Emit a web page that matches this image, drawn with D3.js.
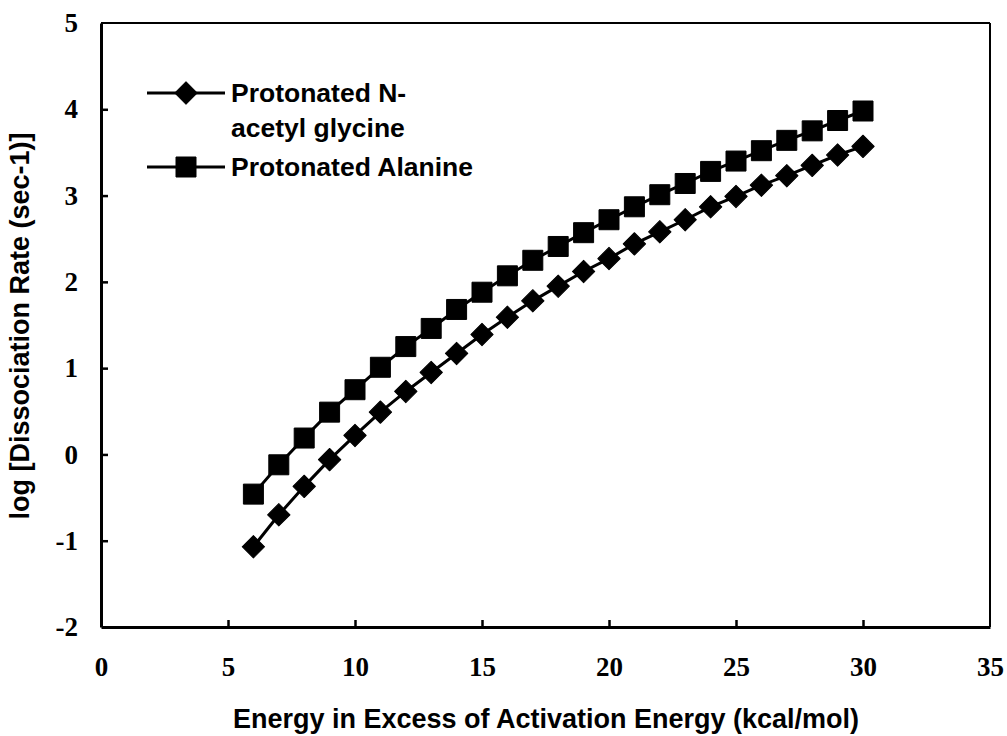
<!DOCTYPE html>
<html>
<head>
<meta charset="utf-8">
<script src="https://cdn.jsdelivr.net/npm/d3@7"></script>
<style>
  body { margin: 0; background: #fff; }
  .tick-label { font-family: "Liberation Serif", "Times New Roman", serif; font-weight: bold; font-size: 27px; }
  .title { font-family: "Liberation Sans", Arial, sans-serif; font-weight: bold; font-size: 27px; }
  .legend { font-family: "Liberation Sans", Arial, sans-serif; font-weight: bold; font-size: 26.5px; }
</style>
</head>
<body>
<div id="chart"></div>
<script>
// energy in excess of activation energy (kcal/mol)
const energy = [6,7,8,9,10,11,12,13,14,15,16,17,18,19,20,21,22,23,24,25,26,27,28,29,30];

// log dissociation rate
const glycine = [-1.07,-0.70,-0.37,-0.06,0.22,0.49,0.73,0.95,1.17,1.39,1.59,1.78,1.95,2.12,2.27,2.44,2.58,2.72,2.87,2.99,3.12,3.23,3.35,3.47,3.57];
const alanine = [-0.46,-0.12,0.19,0.49,0.75,1.01,1.25,1.46,1.68,1.88,2.07,2.25,2.41,2.57,2.72,2.87,3.01,3.14,3.28,3.40,3.52,3.64,3.75,3.87,3.98];

const xTicks = [0,5,10,15,20,25,30,35];
const yTicks = [-2,-1,0,1,2,3,4,5];

const width = 1007, height = 736;
const margin = {top: 23, right: 17, bottom: 109, left: 101};

const svg = d3.select('#chart')
  .append('svg')
    .attr('width', width)
    .attr('height', height);

const x = d3.scaleLinear().domain([0, 35]).range([margin.left, width - margin.right]);
const y = d3.scaleLinear().domain([-2, 5]).range([height - margin.bottom, margin.top]);

// frame - top and right lighter
svg.append('line')
  .attr('x1', x(0)).attr('x2', x(35)).attr('y1', y(5)).attr('y2', y(5))
  .attr('stroke', '#000').attr('stroke-width', 2);
svg.append('line')
  .attr('x1', x(35)).attr('x2', x(35)).attr('y1', y(5)).attr('y2', y(-2))
  .attr('stroke', '#000').attr('stroke-width', 2);

// plain hyphen for negatives, like the original
const fmt = function(d){ return String(d); };

// axes, ticks pointing inward
const xAxis = svg.append('g')
  .attr('transform', `translate(0,${y(-2)})`)
  .call(d3.axisBottom(x).tickValues(xTicks).tickFormat(fmt).tickSizeInner(-7).tickSizeOuter(0).tickPadding(30));
const yAxis = svg.append('g')
  .attr('transform', `translate(${x(0)},0)`)
  .call(d3.axisLeft(y).tickValues(yTicks).tickFormat(fmt).tickSizeInner(-7).tickSizeOuter(0).tickPadding(23));

[xAxis, yAxis].forEach(function(ax) {
  ax.select('.domain').attr('stroke-width', 3);
  ax.selectAll('.tick line').attr('stroke-width', 2.5);
  ax.selectAll('.tick text').attr('class', 'tick-label').attr('fill', '#000');
});
// remove the inner tick on the axis ends so they don't poke out
xAxis.selectAll('.tick').filter(function(d){ return d === 0 || d === 35; }).select('line').remove();
yAxis.selectAll('.tick').filter(function(d){ return d === -2 || d === 5; }).select('line').remove();

// axis titles
svg.append('text')
  .attr('class', 'title')
  .attr('text-anchor', 'middle')
  .attr('x', 546)
  .attr('y', 728)
  .text('Energy in Excess of Activation Energy (kcal/mol)');

svg.append('text')
  .attr('class', 'title')
  .attr('text-anchor', 'middle')
  .attr('transform', 'translate(29,326) rotate(-90)')
  .text('log [Dissociation Rate (sec-1)]');

const glyData = energy.map(function(e, i){ return {x: e, y: glycine[i]}; });
const alaData = energy.map(function(e, i){ return {x: e, y: alanine[i]}; });

const lineGen = d3.line()
  .x(function(d){ return x(d.x); })
  .y(function(d){ return y(d.y); });

const diamond = d3.symbol().type(d3.symbolSquare).size(250);
const square = d3.symbol().type(d3.symbolSquare).size(400);

function drawSeries(data, marker, rotate) {
  svg.append('path')
    .datum(data)
    .attr('d', lineGen)
    .attr('fill', 'none')
    .attr('stroke', '#000')
    .attr('stroke-width', 3);

  svg.append('g').selectAll('path')
    .data(data)
    .enter()
    .append('path')
    .attr('d', marker)
    .attr('fill', '#000')
    .attr('stroke', '#000')
    .attr('stroke-width', 1)
    .attr('stroke-linejoin', 'round')
    .attr('transform', function(d){ return `translate(${x(d.x)},${y(d.y)}) rotate(${rotate})`; });
}

drawSeries(glyData, diamond, 45);
drawSeries(alaData, square, 0);

// legend
const legend = svg.append('g');
const legendItems = [
  {lines: ['Protonated N-', 'acetyl glycine'], marker: diamond, rotate: 45, y: 93},
  {lines: ['Protonated Alanine'], marker: square, rotate: 0, y: 167}
];

legendItems.forEach(function(item) {
  legend.append('line')
    .attr('x1', 147).attr('x2', 225)
    .attr('y1', item.y).attr('y2', item.y)
    .attr('stroke', '#000').attr('stroke-width', 3);
  legend.append('path')
    .attr('d', item.marker)
    .attr('fill', '#000')
    .attr('stroke', '#000')
    .attr('stroke-linejoin', 'round')
    .attr('transform', `translate(186,${item.y}) rotate(${item.rotate})`);
  item.lines.forEach(function(t, i) {
    legend.append('text')
      .attr('class', 'legend')
      .attr('x', 231)
      .attr('y', item.y + i * 35)
      .attr('dy', '0.35em')
      .text(t);
  });
});
</script>
</body>
</html>
